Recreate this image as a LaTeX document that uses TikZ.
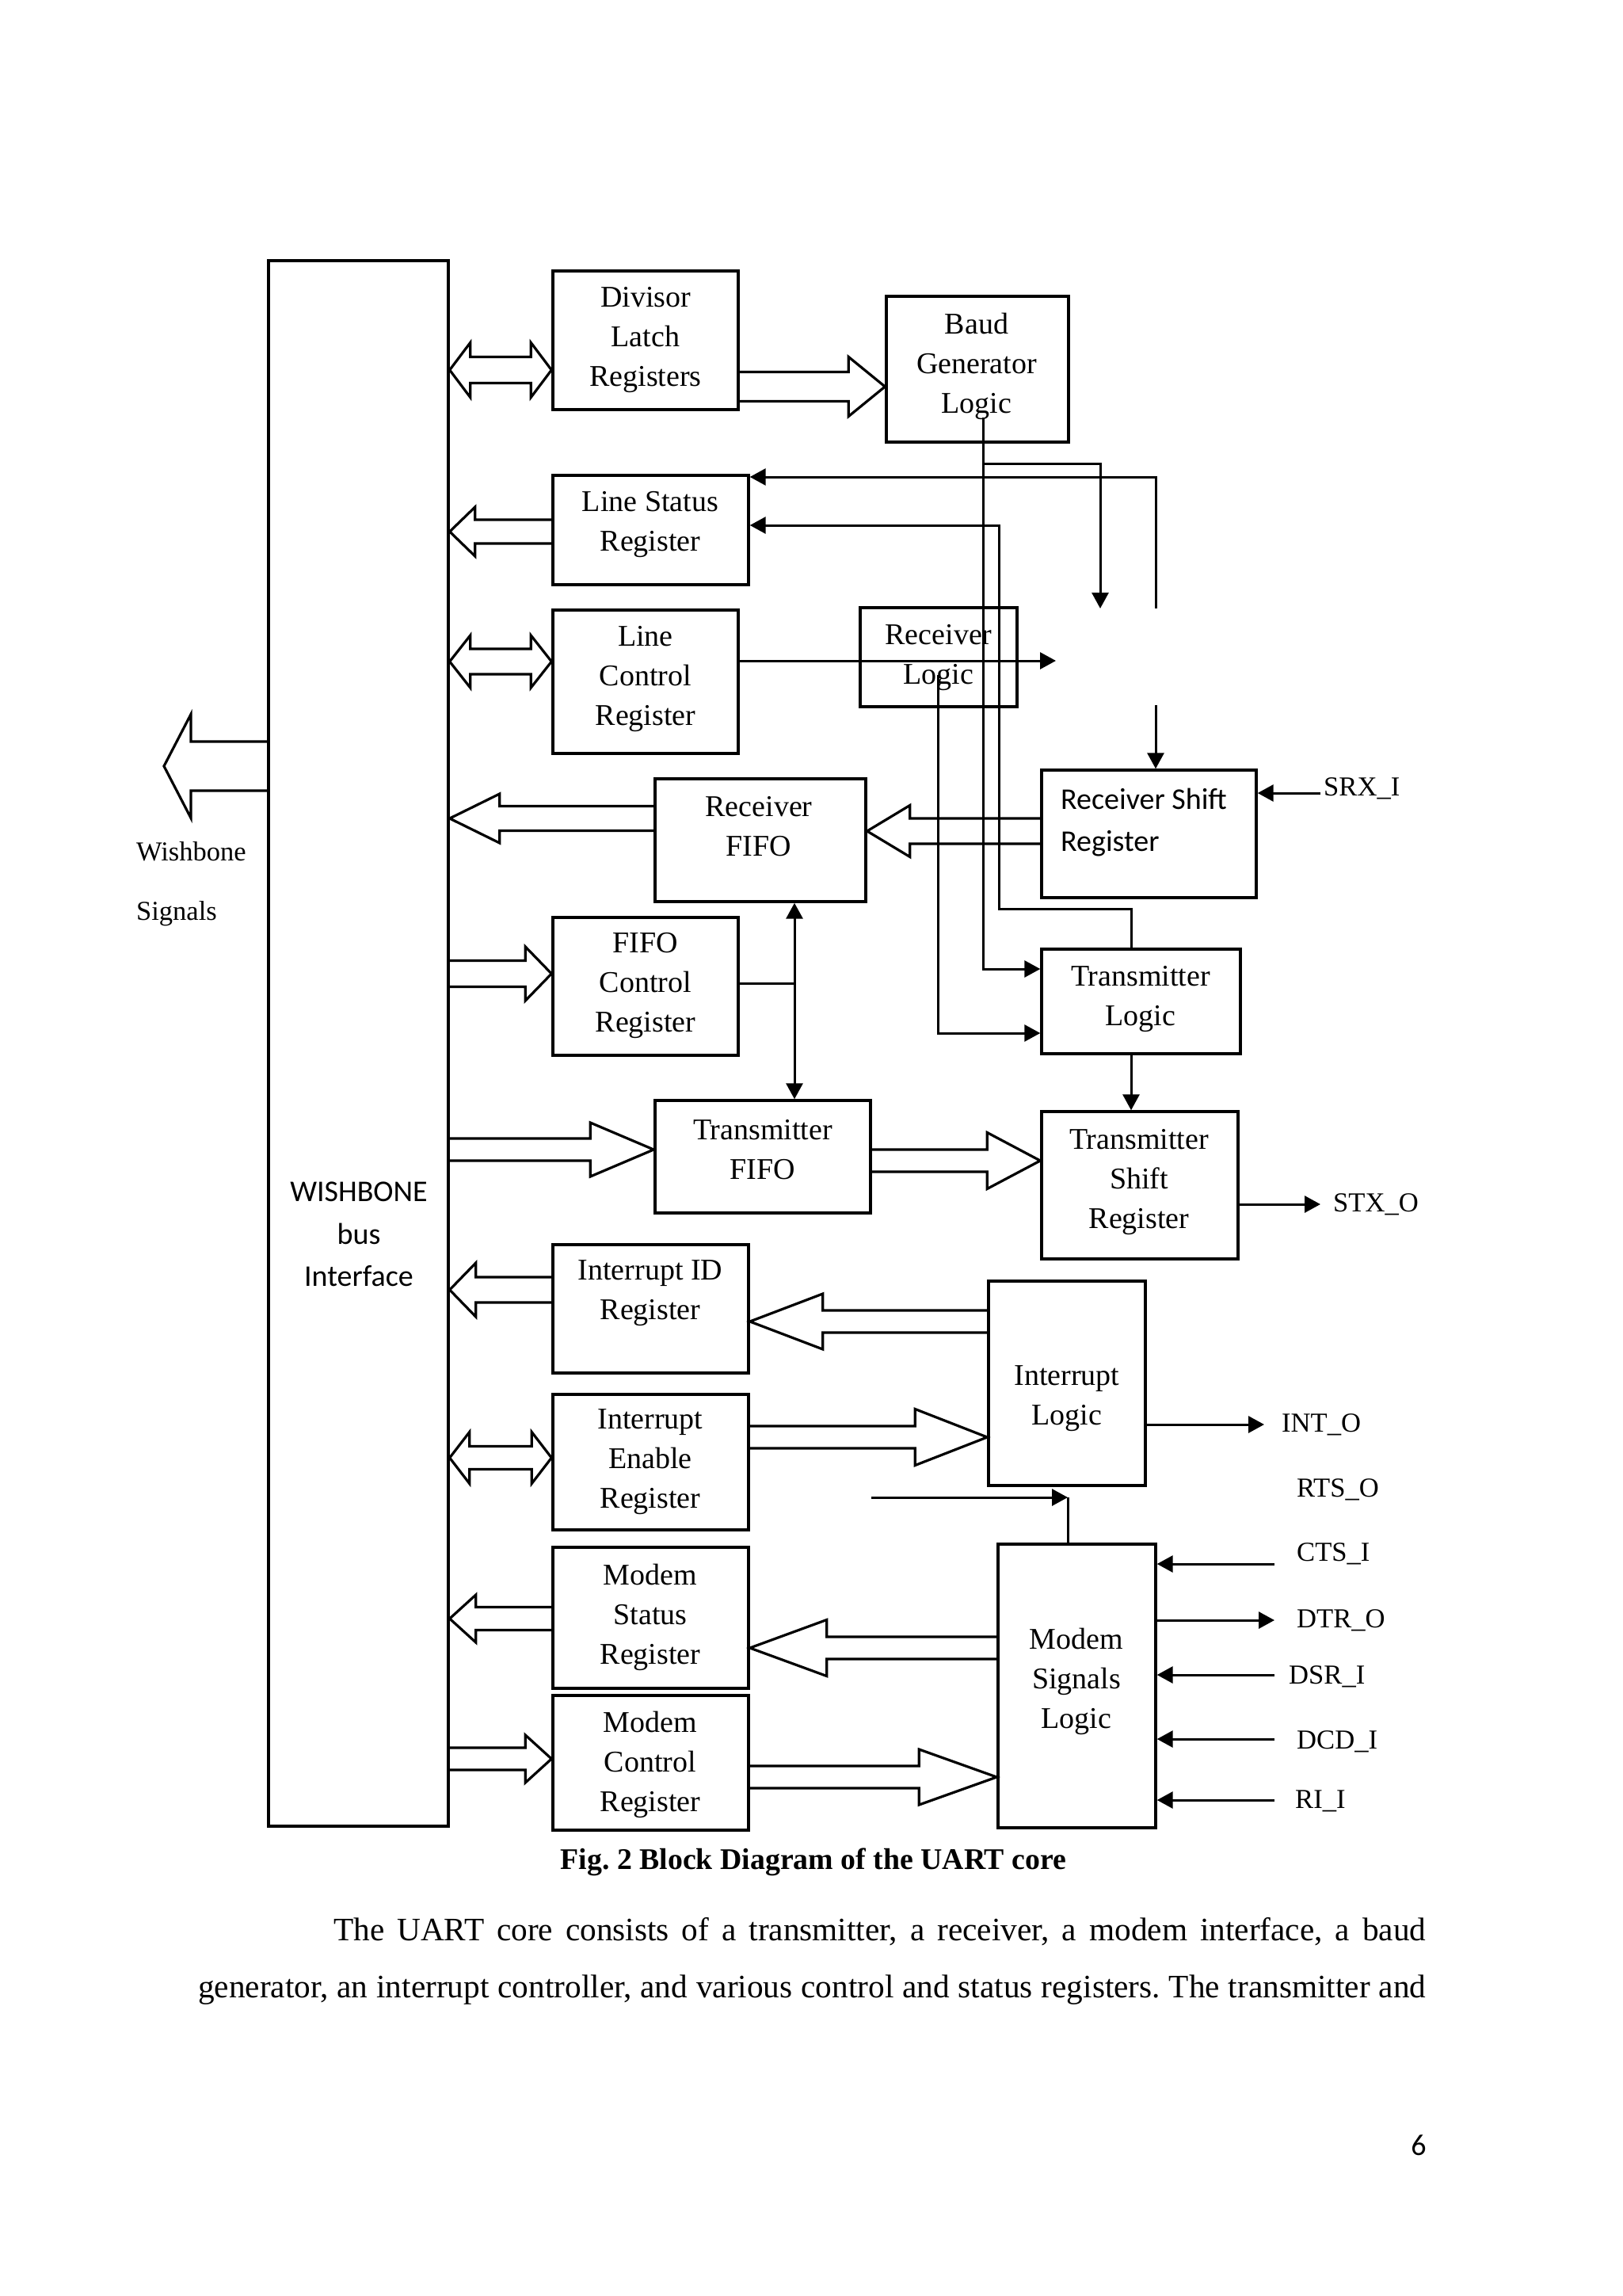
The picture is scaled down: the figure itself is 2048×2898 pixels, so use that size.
\documentclass[tikz,border=0pt]{standalone}
\usepackage{fontspec}
\setmainfont{Liberation Serif}
\newfontfamily\calfont{Carlito}
\usetikzlibrary{arrows.meta,calc}
\frenchspacing
\newcommand\bx[5]{\node[box, minimum width={(#4-#2)*1pt}, minimum height={(#5-#3)*1pt}] (#1) at ({(#2+#4)/2},{(#3+#5)/2}) {};}
\newcommand\blkar[5]{\draw[blk] ($#1+(0,-#3)$) -- ($#2+({-1*(#5)},-#3)$) -- ($#2+({-1*(#5)},-#4)$) -- #2 -- ($#2+({-1*(#5)},#4)$) -- ($#2+({-1*(#5)},#3)$) -- ($#1+(0,#3)$);}
\newcommand\dblar[5]{\draw[blk] #1 -- ($#1+(#5,-#4)$) -- ($#1+(#5,-#3)$) -- ($#2+(-#5,-#3)$) -- ($#2+(-#5,-#4)$) -- #2 -- ($#2+(-#5,#4)$) -- ($#2+(-#5,#3)$) -- ($#1+(#5,#3)$) -- ($#1+(#5,#4)$) -- cycle;}
\begin{document}
\begin{tikzpicture}[x=1pt,y=-1pt,
  box/.style={draw, line width=3.4pt, inner sep=0pt},
  lbl/.style={font=\fontsize{38}{50}\selectfont, align=center, inner sep=0pt},
  sig/.style={font=\fontsize{34.6}{40}\selectfont, anchor=west, inner sep=0pt},
  blk/.style={draw, line width=3.2pt},
  conn/.style={line width=3pt},
  arr/.style={conn, -{Triangle[length=20pt,width=21pt]}},
  darr/.style={conn, {Triangle[length=20pt,width=21pt]}-{Triangle[length=20pt,width=21pt]}},
]
\fill[white] (0,0) rectangle (2048,2898);
\useasboundingbox (0,0) rectangle (2048,2898);

% boxes
\bx{wb}{339}{329}{566}{2305}
\bx{div}{698}{342}{932}{517}
\bx{baud}{1119}{374}{1349}{558}
\bx{lsr}{698}{600}{945}{738}
\bx{lcr}{698}{770}{932}{951}
\bx{rxl}{1086}{767}{1284}{892}
\bx{rxf}{827}{983}{1093}{1138}
\bx{rsr}{1315}{972}{1586}{1133}
\bx{fcr}{698}{1158}{932}{1332}
\bx{txl}{1315}{1198}{1566}{1330}
\bx{txf}{827}{1389}{1099}{1531}
\bx{txs}{1315}{1403}{1563}{1589}
\bx{iid}{698}{1571}{945}{1733}
\bx{intl}{1248}{1617}{1446}{1875}
\bx{ier}{698}{1760}{945}{1931}
\bx{msr}{698}{1953}{945}{2131}
\bx{msl}{1260}{1949}{1459}{2307}
\bx{mcr}{698}{2140}{945}{2310}

% box texts
\node[lbl] (divt) at (815,429) {Divisor\\Latch\\Registers};
\node[lbl] (baudt) at (1233,462) {Baud\\Generator\\Logic};
\node[lbl] (lsrt) at (821,662) {Line Status\\Register};
\node[lbl] (lcrt) at (815,857) {Line\\Control\\Register};
\node[lbl] (rxlt) at (1185,830) {Receiver\\Logic};
\node[lbl] (rxft) at (958,1043) {Receiver\\FIFO};
\node[inner sep=0pt, anchor=west, align=left, font=\calfont\fontsize{38}{53}\selectfont] (rsrt) at (1339,1038) {Receiver Shift\\Register};
\node[lbl] (fcrt) at (815,1244) {FIFO\\Control\\Register};
\node[lbl] (txlt) at (1440,1261) {Transmitter\\Logic};
\node[lbl] (txft) at (963,1451) {Transmitter\\FIFO};
\node[lbl] (txst) at (1438,1492) {Transmitter\\Shift\\Register};
\node[lbl] (iidt) at (821,1632) {Interrupt ID\\Register};
\node[lbl] (intlt) at (1347,1765) {Interrupt\\Logic};
\node[lbl] (iert) at (821,1845) {Interrupt\\Enable\\Register};
\node[lbl] (msrt) at (821,2041) {Modem\\Status\\Register};
\node[lbl] (mslt) at (1359,2122) {Modem\\Signals\\Logic};
\node[lbl] (mcrt) at (821,2227) {Modem\\Control\\Register};
\node[inner sep=0pt, align=center, font=\calfont\fontsize{38}{53.5}\selectfont] (wbt) at (453,1558) {WISHBONE\\bus\\Interface};
\node[inner sep=0pt, anchor=west, align=left, font=\fontsize{34.5}{75}\selectfont] (wst) at (172,1116) {Wishbone\\Signals};

% hollow block arrows
\coordinate (wbsig) at (207,967);
\blkar{(wb.west |- 0,967)}{(wbsig)}{31}{65.5}{-34}
\dblar{(wb.east |- 0,467)}{(div.west |- 0,467)}{16.5}{34.5}{26}
\blkar{(div.east |- 0,488)}{(baud.west |- 0,488)}{18.5}{37.5}{46}
\blkar{(lsr.west |- 0,671)}{(wb.east |- 0,671)}{15}{31}{-32}
\dblar{(wb.east |- 0,835)}{(lcr.west |- 0,835)}{16}{33}{26}
\blkar{(rxf.west |- 0,1033)}{(wb.east |- 0,1033)}{15.5}{31}{-63}
\blkar{(rsr.west |- 0,1049)}{(rxf.east |- 0,1049)}{16}{32.5}{-54}
\blkar{(wb.east |- 0,1229)}{(fcr.west |- 0,1229)}{16.5}{34}{33}
\blkar{(wb.east |- 0,1451)}{(txf.west |- 0,1451)}{14}{34}{80}
\blkar{(txf.east |- 0,1465)}{(txs.west |- 0,1465)}{14}{35.5}{67}
\blkar{(iid.west |- 0,1628)}{(wb.east |- 0,1628)}{16}{34}{-33}
\blkar{(intl.west |- 0,1668)}{(iid.east |- 0,1668)}{14}{35}{-92}
\dblar{(wb.east |- 0,1840)}{(ier.west |- 0,1840)}{14.5}{32.5}{25}
\blkar{(ier.east |- 0,1814)}{(intl.west |- 0,1814)}{14}{35.5}{91}
\blkar{(msr.west |- 0,2043)}{(wb.east |- 0,2043)}{14.5}{30}{-33}
\blkar{(msl.west |- 0,2080)}{(msr.east |- 0,2080)}{14}{35.5}{-97}
\blkar{(wb.east |- 0,2220)}{(mcr.west |- 0,2220)}{14}{30}{33}
\blkar{(mcr.east |- 0,2243)}{(msl.west |- 0,2243)}{14}{35}{98}

% thin connectors
\coordinate (bgo) at (1241,527);
\coordinate (rxin) at (1389,768);
\coordinate (lsrup) at (1459,768);
\coordinate (rsrdn) at (1459,890);
\coordinate (rxlo) at (1184,852);
\coordinate (lcrend) at (1333,834);
\draw[arr] (bgo) -- (1241,1223) -- (txl.west |- 0,1223);
\draw[arr] (1241,585) -- (1389,585) -- (rxin);
\draw[arr] (lsrup) -- (1459,602) -- (lsr.east |- 0,602);
\draw[arr] (rsrdn) -- (rsr.north -| 1459,0);
\draw[arr] (txl.north -| 1428,0) -- (1428,1147) -- (1261,1147) -- (1261,663) -- (lsr.east |- 0,663);
\draw[arr] (lcr.east |- 0,834) -- (lcrend);
\draw[arr] (rxlo) -- (1184,1304) -- (txl.west |- 0,1304);
\draw[conn] (fcr.east |- 0,1241) -- (1003,1241);
\draw[darr] (rxf.south -| 1003,0) -- (txf.north -| 1003,0);
\draw[arr] (txl.south -| 1428,0) -- (txs.north -| 1428,0);

% signal lines and labels
\node[sig] (srx) at (1671,995) {SRX\_I};
\node[sig] (stx) at (1683,1520) {STX\_O};
\node[sig] (into) at (1618,1798) {INT\_O};
\node[sig] (rts) at (1637,1880) {RTS\_O};
\node[sig] (cts) at (1637,1961) {CTS\_I};
\node[sig] (dtr) at (1637,2045) {DTR\_O};
\node[sig] (dsr) at (1627,2116) {DSR\_I};
\node[sig] (dcd) at (1637,2198) {DCD\_I};
\node[sig] (ri) at (1635,2273) {RI\_I};
\coordinate (srxs) at (1667,1001);
\coordinate (stxe) at (1667,1520);
\coordinate (intoe) at (1596,1798);
\draw[arr] (srxs) -- (rsr.east |- srxs);
\draw[arr] (txs.east |- stxe) -- (stxe);
\draw[arr] (intl.east |- intoe) -- (intoe);
\coordinate (rtsin) at (1100,1890);
\draw[arr] (rtsin) -- (1348,1890);
\draw[conn] (1348,1890) -- (msl.north -| 1348,0);
\draw[arr] (1609,1974) -- (msl.east |- 0,1974);
\draw[arr] (msl.east |- 0,2045) -- (1609,2045);
\draw[arr] (1609,2114) -- (msl.east |- 0,2114);
\draw[arr] (1609,2195) -- (msl.east |- 0,2195);
\draw[arr] (1609,2272) -- (msl.east |- 0,2272);

% caption and page text
\node[inner sep=0pt, font=\bfseries\fontsize{37.8}{45}\selectfont] (cap) at (1027,2350) {Fig. 2 Block Diagram of the UART core};
\node[anchor=base west, inner sep=0pt, font=\fontsize{41.3}{50}\selectfont] (p1) at (421,2449) {\makebox[1379pt][s]{The UART core consists of a transmitter, a receiver, a modem interface, a baud}};
\node[anchor=base west, inner sep=0pt, font=\fontsize{41.3}{50}\selectfont] (p2) at (250,2521) {\makebox[1550pt][s]{generator, an interrupt controller, and various control and status registers. The transmitter and}};
\node[inner sep=0pt, font=\calfont\fontsize{38}{45}\selectfont] (pg) at (1791,2708) {6};
\end{tikzpicture}
\end{document}
